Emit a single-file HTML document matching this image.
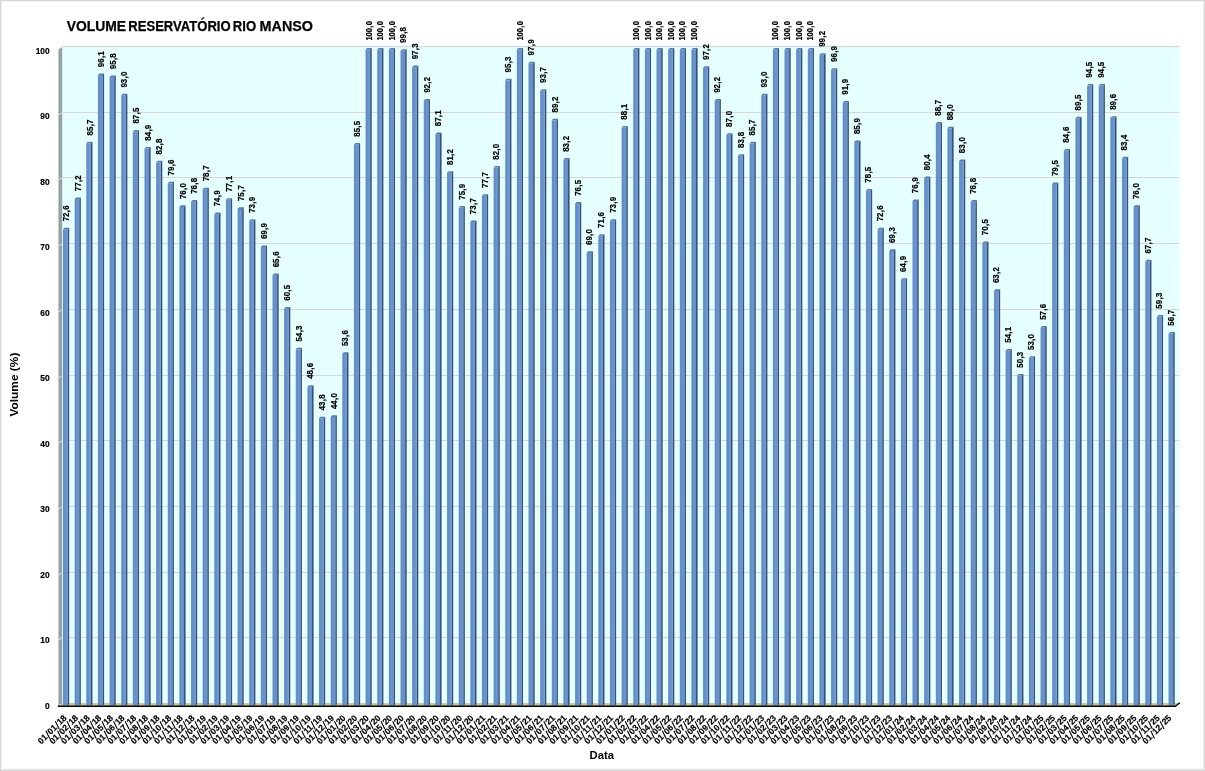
<!DOCTYPE html>
<html><head><meta charset="utf-8"><title>Volume Reservatório Rio Manso</title>
<style>html,body{margin:0;padding:0;background:#fff}body{width:1205px;height:771px;overflow:hidden}svg{will-change:transform}</style></head>
<body>
<svg width="1205" height="771" viewBox="0 0 1205 771" style="display:block;font-family:'Liberation Sans',sans-serif;font-weight:bold">
<defs>
<linearGradient id="bf" x1="0" y1="0" x2="1" y2="0"><stop offset="0" stop-color="#6d95cf"/><stop offset="0.2" stop-color="#628bc6"/><stop offset="0.7" stop-color="#6b97d0"/><stop offset="1" stop-color="#5f88c0"/></linearGradient>
<linearGradient id="wl" x1="0" y1="0" x2="1" y2="0"><stop offset="0" stop-color="#8c9c9c"/><stop offset="0.75" stop-color="#94a6a6"/><stop offset="1" stop-color="#c0d4d4"/></linearGradient>
<g id="p" font-size="8.6"><text x="-27.0" y="0" text-anchor="end">01</text><path d="M-26.3,1.7L-23.6,-6.4M-12.9,1.7L-10.2,-6.4" stroke="#000" stroke-width="1.1" fill="none"/></g>
</defs>
<rect width="1205" height="771" fill="#fff"/>
<rect x="0" y="0" width="1205" height="1" fill="#d5d5d5"/><rect x="0" y="1" width="1205" height="1" fill="#f5f5f5"/>
<rect x="0" y="0" width="1" height="771" fill="#d4d4d4"/><rect x="1" y="1" width="1" height="771" fill="#f3f3f3"/>
<rect x="1203" y="1" width="1" height="771" fill="#efefef"/><rect x="1204" y="0" width="1" height="771" fill="#d9d9d9"/>
<rect x="1" y="768" width="1203" height="1" fill="#f8f8f8"/><rect x="1" y="769" width="1203" height="1" fill="#e6e6e6"/><rect x="0" y="770" width="1205" height="1" fill="#dadada"/>
<rect x="62.5" y="46.0" width="1117.1" height="658.0" fill="#e6ffff"/>
<rect x="62.5" y="703" width="1117.1" height="1" fill="#d7d7d7"/>
<rect x="62.5" y="637" width="1117.1" height="1" fill="#d7d7d7"/>
<rect x="62.5" y="572" width="1117.1" height="1" fill="#d7d7d7"/>
<rect x="62.5" y="506" width="1117.1" height="1" fill="#d7d7d7"/>
<rect x="62.5" y="440" width="1117.1" height="1" fill="#d7d7d7"/>
<rect x="62.5" y="375" width="1117.1" height="1" fill="#d7d7d7"/>
<rect x="62.5" y="309" width="1117.1" height="1" fill="#d7d7d7"/>
<rect x="62.5" y="243" width="1117.1" height="1" fill="#d7d7d7"/>
<rect x="62.5" y="177" width="1117.1" height="1" fill="#d7d7d7"/>
<rect x="62.5" y="112" width="1117.1" height="1" fill="#d7d7d7"/>
<rect x="62.5" y="45.9" width="1117.1" height="1.3" fill="#d7d7d7"/>
<polygon points="58.5,49.5 62.5,46.3 62.5,703.5 58.5,706" fill="url(#wl)"/>
<line x1="62.5" y1="703.50" x2="57.3" y2="706.70" stroke="#e6e6e6" stroke-width="1"/>
<line x1="62.5" y1="637.50" x2="57.3" y2="640.70" stroke="#e6e6e6" stroke-width="1"/>
<line x1="62.5" y1="572.50" x2="57.3" y2="575.70" stroke="#e6e6e6" stroke-width="1"/>
<line x1="62.5" y1="506.50" x2="57.3" y2="509.70" stroke="#e6e6e6" stroke-width="1"/>
<line x1="62.5" y1="440.50" x2="57.3" y2="443.70" stroke="#e6e6e6" stroke-width="1"/>
<line x1="62.5" y1="375.50" x2="57.3" y2="378.70" stroke="#e6e6e6" stroke-width="1"/>
<line x1="62.5" y1="309.50" x2="57.3" y2="312.70" stroke="#e6e6e6" stroke-width="1"/>
<line x1="62.5" y1="243.50" x2="57.3" y2="246.70" stroke="#e6e6e6" stroke-width="1"/>
<line x1="62.5" y1="177.50" x2="57.3" y2="180.70" stroke="#e6e6e6" stroke-width="1"/>
<line x1="62.5" y1="112.50" x2="57.3" y2="115.70" stroke="#e6e6e6" stroke-width="1"/>
<line x1="62.5" y1="46.50" x2="57.3" y2="49.70" stroke="#e6e6e6" stroke-width="1"/>
<polygon points="58.5,706 62.5,703.2 1179.6,703.2 1175.5,706" fill="#c9c48c"/>
<polygon points="63.00,229.27 64.60,227.67 69.20,227.67 67.60,229.27" fill="#5579ad"/>
<polygon points="67.60,229.27 69.20,227.67 69.20,704.4 67.60,705.6" fill="#34517e"/>
<rect x="63.00" y="229.27" width="4.6" height="476.33" fill="url(#bf)"/>
<polygon points="74.64,199.09 76.24,197.49 80.84,197.49 79.24,199.09" fill="#5579ad"/>
<polygon points="79.24,199.09 80.84,197.49 80.84,704.4 79.24,705.6" fill="#34517e"/>
<rect x="74.64" y="199.09" width="4.6" height="506.51" fill="url(#bf)"/>
<polygon points="86.27,143.32 87.87,141.72 92.47,141.72 90.87,143.32" fill="#5579ad"/>
<polygon points="90.87,143.32 92.47,141.72 92.47,704.4 90.87,705.6" fill="#34517e"/>
<rect x="86.27" y="143.32" width="4.6" height="562.28" fill="url(#bf)"/>
<polygon points="97.91,75.09 99.51,73.49 104.11,73.49 102.51,75.09" fill="#5579ad"/>
<polygon points="102.51,75.09 104.11,73.49 104.11,704.4 102.51,705.6" fill="#34517e"/>
<rect x="97.91" y="75.09" width="4.6" height="630.51" fill="url(#bf)"/>
<polygon points="109.55,77.06 111.15,75.46 115.75,75.46 114.15,77.06" fill="#5579ad"/>
<polygon points="114.15,77.06 115.75,75.46 115.75,704.4 114.15,705.6" fill="#34517e"/>
<rect x="109.55" y="77.06" width="4.6" height="628.54" fill="url(#bf)"/>
<polygon points="121.19,95.43 122.78,93.83 127.38,93.83 125.78,95.43" fill="#5579ad"/>
<polygon points="125.78,95.43 127.38,93.83 127.38,704.4 125.78,705.6" fill="#34517e"/>
<rect x="121.19" y="95.43" width="4.6" height="610.17" fill="url(#bf)"/>
<polygon points="132.82,131.51 134.42,129.91 139.02,129.91 137.42,131.51" fill="#5579ad"/>
<polygon points="137.42,131.51 139.02,129.91 139.02,704.4 137.42,705.6" fill="#34517e"/>
<rect x="132.82" y="131.51" width="4.6" height="574.09" fill="url(#bf)"/>
<polygon points="144.46,148.57 146.06,146.97 150.66,146.97 149.06,148.57" fill="#5579ad"/>
<polygon points="149.06,148.57 150.66,146.97 150.66,704.4 149.06,705.6" fill="#34517e"/>
<rect x="144.46" y="148.57" width="4.6" height="557.03" fill="url(#bf)"/>
<polygon points="156.10,162.35 157.70,160.75 162.30,160.75 160.70,162.35" fill="#5579ad"/>
<polygon points="160.70,162.35 162.30,160.75 162.30,704.4 160.70,705.6" fill="#34517e"/>
<rect x="156.10" y="162.35" width="4.6" height="543.25" fill="url(#bf)"/>
<polygon points="167.73,183.34 169.33,181.74 173.93,181.74 172.33,183.34" fill="#5579ad"/>
<polygon points="172.33,183.34 173.93,181.74 173.93,704.4 172.33,705.6" fill="#34517e"/>
<rect x="167.73" y="183.34" width="4.6" height="522.26" fill="url(#bf)"/>
<polygon points="179.37,206.96 180.97,205.36 185.57,205.36 183.97,206.96" fill="#5579ad"/>
<polygon points="183.97,206.96 185.57,205.36 185.57,704.4 183.97,705.6" fill="#34517e"/>
<rect x="179.37" y="206.96" width="4.6" height="498.64" fill="url(#bf)"/>
<polygon points="191.01,201.72 192.61,200.12 197.21,200.12 195.61,201.72" fill="#5579ad"/>
<polygon points="195.61,201.72 197.21,200.12 197.21,704.4 195.61,705.6" fill="#34517e"/>
<rect x="191.01" y="201.72" width="4.6" height="503.88" fill="url(#bf)"/>
<polygon points="202.64,189.25 204.24,187.65 208.84,187.65 207.24,189.25" fill="#5579ad"/>
<polygon points="207.24,189.25 208.84,187.65 208.84,704.4 207.24,705.6" fill="#34517e"/>
<rect x="202.64" y="189.25" width="4.6" height="516.35" fill="url(#bf)"/>
<polygon points="214.28,214.18 215.88,212.58 220.48,212.58 218.88,214.18" fill="#5579ad"/>
<polygon points="218.88,214.18 220.48,212.58 220.48,704.4 218.88,705.6" fill="#34517e"/>
<rect x="214.28" y="214.18" width="4.6" height="491.42" fill="url(#bf)"/>
<polygon points="225.92,199.75 227.52,198.15 232.12,198.15 230.52,199.75" fill="#5579ad"/>
<polygon points="230.52,199.75 232.12,198.15 232.12,704.4 230.52,705.6" fill="#34517e"/>
<rect x="225.92" y="199.75" width="4.6" height="505.85" fill="url(#bf)"/>
<polygon points="237.56,208.93 239.16,207.33 243.75,207.33 242.16,208.93" fill="#5579ad"/>
<polygon points="242.16,208.93 243.75,207.33 243.75,704.4 242.16,705.6" fill="#34517e"/>
<rect x="237.56" y="208.93" width="4.6" height="496.67" fill="url(#bf)"/>
<polygon points="249.19,220.74 250.79,219.14 255.39,219.14 253.79,220.74" fill="#5579ad"/>
<polygon points="253.79,220.74 255.39,219.14 255.39,704.4 253.79,705.6" fill="#34517e"/>
<rect x="249.19" y="220.74" width="4.6" height="484.86" fill="url(#bf)"/>
<polygon points="260.83,246.99 262.43,245.39 267.03,245.39 265.43,246.99" fill="#5579ad"/>
<polygon points="265.43,246.99 267.03,245.39 267.03,704.4 265.43,705.6" fill="#34517e"/>
<rect x="260.83" y="246.99" width="4.6" height="458.61" fill="url(#bf)"/>
<polygon points="272.47,275.20 274.07,273.60 278.67,273.60 277.07,275.20" fill="#5579ad"/>
<polygon points="277.07,275.20 278.67,273.60 278.67,704.4 277.07,705.6" fill="#34517e"/>
<rect x="272.47" y="275.20" width="4.6" height="430.40" fill="url(#bf)"/>
<polygon points="284.10,308.66 285.70,307.06 290.30,307.06 288.70,308.66" fill="#5579ad"/>
<polygon points="288.70,308.66 290.30,307.06 290.30,704.4 288.70,705.6" fill="#34517e"/>
<rect x="284.10" y="308.66" width="4.6" height="396.94" fill="url(#bf)"/>
<polygon points="295.74,349.34 297.34,347.74 301.94,347.74 300.34,349.34" fill="#5579ad"/>
<polygon points="300.34,349.34 301.94,347.74 301.94,704.4 300.34,705.6" fill="#34517e"/>
<rect x="295.74" y="349.34" width="4.6" height="356.26" fill="url(#bf)"/>
<polygon points="307.38,386.74 308.98,385.14 313.58,385.14 311.98,386.74" fill="#5579ad"/>
<polygon points="311.98,386.74 313.58,385.14 313.58,704.4 311.98,705.6" fill="#34517e"/>
<rect x="307.38" y="386.74" width="4.6" height="318.86" fill="url(#bf)"/>
<polygon points="319.01,418.23 320.61,416.63 325.21,416.63 323.61,418.23" fill="#5579ad"/>
<polygon points="323.61,418.23 325.21,416.63 325.21,704.4 323.61,705.6" fill="#34517e"/>
<rect x="319.01" y="418.23" width="4.6" height="287.37" fill="url(#bf)"/>
<polygon points="330.65,416.92 332.25,415.32 336.85,415.32 335.25,416.92" fill="#5579ad"/>
<polygon points="335.25,416.92 336.85,415.32 336.85,704.4 335.25,705.6" fill="#34517e"/>
<rect x="330.65" y="416.92" width="4.6" height="288.68" fill="url(#bf)"/>
<polygon points="342.29,353.93 343.89,352.33 348.49,352.33 346.89,353.93" fill="#5579ad"/>
<polygon points="346.89,353.93 348.49,352.33 348.49,704.4 346.89,705.6" fill="#34517e"/>
<rect x="342.29" y="353.93" width="4.6" height="351.67" fill="url(#bf)"/>
<polygon points="353.93,144.63 355.53,143.03 360.13,143.03 358.53,144.63" fill="#5579ad"/>
<polygon points="358.53,144.63 360.13,143.03 360.13,704.4 358.53,705.6" fill="#34517e"/>
<rect x="353.93" y="144.63" width="4.6" height="560.97" fill="url(#bf)"/>
<polygon points="365.56,49.50 367.16,47.90 371.76,47.90 370.16,49.50" fill="#5579ad"/>
<polygon points="370.16,49.50 371.76,47.90 371.76,704.4 370.16,705.6" fill="#34517e"/>
<rect x="365.56" y="49.50" width="4.6" height="656.10" fill="url(#bf)"/>
<polygon points="377.20,49.50 378.80,47.90 383.40,47.90 381.80,49.50" fill="#5579ad"/>
<polygon points="381.80,49.50 383.40,47.90 383.40,704.4 381.80,705.6" fill="#34517e"/>
<rect x="377.20" y="49.50" width="4.6" height="656.10" fill="url(#bf)"/>
<polygon points="388.84,49.50 390.44,47.90 395.04,47.90 393.44,49.50" fill="#5579ad"/>
<polygon points="393.44,49.50 395.04,47.90 395.04,704.4 393.44,705.6" fill="#34517e"/>
<rect x="388.84" y="49.50" width="4.6" height="656.10" fill="url(#bf)"/>
<polygon points="400.47,50.81 402.07,49.21 406.67,49.21 405.07,50.81" fill="#5579ad"/>
<polygon points="405.07,50.81 406.67,49.21 406.67,704.4 405.07,705.6" fill="#34517e"/>
<rect x="400.47" y="50.81" width="4.6" height="654.79" fill="url(#bf)"/>
<polygon points="412.11,67.21 413.71,65.61 418.31,65.61 416.71,67.21" fill="#5579ad"/>
<polygon points="416.71,67.21 418.31,65.61 418.31,704.4 416.71,705.6" fill="#34517e"/>
<rect x="412.11" y="67.21" width="4.6" height="638.39" fill="url(#bf)"/>
<polygon points="423.75,100.68 425.35,99.08 429.95,99.08 428.35,100.68" fill="#5579ad"/>
<polygon points="428.35,100.68 429.95,99.08 429.95,704.4 428.35,705.6" fill="#34517e"/>
<rect x="423.75" y="100.68" width="4.6" height="604.92" fill="url(#bf)"/>
<polygon points="435.38,134.14 436.98,132.54 441.58,132.54 439.98,134.14" fill="#5579ad"/>
<polygon points="439.98,134.14 441.58,132.54 441.58,704.4 439.98,705.6" fill="#34517e"/>
<rect x="435.38" y="134.14" width="4.6" height="571.46" fill="url(#bf)"/>
<polygon points="447.02,172.85 448.62,171.25 453.22,171.25 451.62,172.85" fill="#5579ad"/>
<polygon points="451.62,172.85 453.22,171.25 453.22,704.4 451.62,705.6" fill="#34517e"/>
<rect x="447.02" y="172.85" width="4.6" height="532.75" fill="url(#bf)"/>
<polygon points="458.66,207.62 460.26,206.02 464.86,206.02 463.26,207.62" fill="#5579ad"/>
<polygon points="463.26,207.62 464.86,206.02 464.86,704.4 463.26,705.6" fill="#34517e"/>
<rect x="458.66" y="207.62" width="4.6" height="497.98" fill="url(#bf)"/>
<polygon points="470.30,222.05 471.90,220.45 476.50,220.45 474.90,222.05" fill="#5579ad"/>
<polygon points="474.90,222.05 476.50,220.45 476.50,704.4 474.90,705.6" fill="#34517e"/>
<rect x="470.30" y="222.05" width="4.6" height="483.55" fill="url(#bf)"/>
<polygon points="481.93,195.81 483.53,194.21 488.13,194.21 486.53,195.81" fill="#5579ad"/>
<polygon points="486.53,195.81 488.13,194.21 488.13,704.4 486.53,705.6" fill="#34517e"/>
<rect x="481.93" y="195.81" width="4.6" height="509.79" fill="url(#bf)"/>
<polygon points="493.57,167.60 495.17,166.00 499.77,166.00 498.17,167.60" fill="#5579ad"/>
<polygon points="498.17,167.60 499.77,166.00 499.77,704.4 498.17,705.6" fill="#34517e"/>
<rect x="493.57" y="167.60" width="4.6" height="538.00" fill="url(#bf)"/>
<polygon points="505.21,80.34 506.81,78.74 511.41,78.74 509.81,80.34" fill="#5579ad"/>
<polygon points="509.81,80.34 511.41,78.74 511.41,704.4 509.81,705.6" fill="#34517e"/>
<rect x="505.21" y="80.34" width="4.6" height="625.26" fill="url(#bf)"/>
<polygon points="516.84,49.50 518.44,47.90 523.04,47.90 521.44,49.50" fill="#5579ad"/>
<polygon points="521.44,49.50 523.04,47.90 523.04,704.4 521.44,705.6" fill="#34517e"/>
<rect x="516.84" y="49.50" width="4.6" height="656.10" fill="url(#bf)"/>
<polygon points="528.48,63.28 530.08,61.68 534.68,61.68 533.08,63.28" fill="#5579ad"/>
<polygon points="533.08,63.28 534.68,61.68 534.68,704.4 533.08,705.6" fill="#34517e"/>
<rect x="528.48" y="63.28" width="4.6" height="642.32" fill="url(#bf)"/>
<polygon points="540.12,90.83 541.72,89.23 546.32,89.23 544.72,90.83" fill="#5579ad"/>
<polygon points="544.72,90.83 546.32,89.23 546.32,704.4 544.72,705.6" fill="#34517e"/>
<rect x="540.12" y="90.83" width="4.6" height="614.77" fill="url(#bf)"/>
<polygon points="551.75,120.36 553.35,118.76 557.95,118.76 556.35,120.36" fill="#5579ad"/>
<polygon points="556.35,120.36 557.95,118.76 557.95,704.4 556.35,705.6" fill="#34517e"/>
<rect x="551.75" y="120.36" width="4.6" height="585.24" fill="url(#bf)"/>
<polygon points="563.39,159.72 564.99,158.12 569.59,158.12 567.99,159.72" fill="#5579ad"/>
<polygon points="567.99,159.72 569.59,158.12 569.59,704.4 567.99,705.6" fill="#34517e"/>
<rect x="563.39" y="159.72" width="4.6" height="545.88" fill="url(#bf)"/>
<polygon points="575.03,203.68 576.63,202.08 581.23,202.08 579.63,203.68" fill="#5579ad"/>
<polygon points="579.63,203.68 581.23,202.08 581.23,704.4 579.63,705.6" fill="#34517e"/>
<rect x="575.03" y="203.68" width="4.6" height="501.92" fill="url(#bf)"/>
<polygon points="586.66,252.89 588.26,251.29 592.87,251.29 591.26,252.89" fill="#5579ad"/>
<polygon points="591.26,252.89 592.87,251.29 592.87,704.4 591.26,705.6" fill="#34517e"/>
<rect x="586.66" y="252.89" width="4.6" height="452.71" fill="url(#bf)"/>
<polygon points="598.30,235.83 599.90,234.23 604.50,234.23 602.90,235.83" fill="#5579ad"/>
<polygon points="602.90,235.83 604.50,234.23 604.50,704.4 602.90,705.6" fill="#34517e"/>
<rect x="598.30" y="235.83" width="4.6" height="469.77" fill="url(#bf)"/>
<polygon points="609.94,220.74 611.54,219.14 616.14,219.14 614.54,220.74" fill="#5579ad"/>
<polygon points="614.54,220.74 616.14,219.14 616.14,704.4 614.54,705.6" fill="#34517e"/>
<rect x="609.94" y="220.74" width="4.6" height="484.86" fill="url(#bf)"/>
<polygon points="621.58,127.58 623.18,125.98 627.78,125.98 626.18,127.58" fill="#5579ad"/>
<polygon points="626.18,127.58 627.78,125.98 627.78,704.4 626.18,705.6" fill="#34517e"/>
<rect x="621.58" y="127.58" width="4.6" height="578.02" fill="url(#bf)"/>
<polygon points="633.21,49.50 634.81,47.90 639.41,47.90 637.81,49.50" fill="#5579ad"/>
<polygon points="637.81,49.50 639.41,47.90 639.41,704.4 637.81,705.6" fill="#34517e"/>
<rect x="633.21" y="49.50" width="4.6" height="656.10" fill="url(#bf)"/>
<polygon points="644.85,49.50 646.45,47.90 651.05,47.90 649.45,49.50" fill="#5579ad"/>
<polygon points="649.45,49.50 651.05,47.90 651.05,704.4 649.45,705.6" fill="#34517e"/>
<rect x="644.85" y="49.50" width="4.6" height="656.10" fill="url(#bf)"/>
<polygon points="656.49,49.50 658.09,47.90 662.69,47.90 661.09,49.50" fill="#5579ad"/>
<polygon points="661.09,49.50 662.69,47.90 662.69,704.4 661.09,705.6" fill="#34517e"/>
<rect x="656.49" y="49.50" width="4.6" height="656.10" fill="url(#bf)"/>
<polygon points="668.12,49.50 669.72,47.90 674.32,47.90 672.72,49.50" fill="#5579ad"/>
<polygon points="672.72,49.50 674.32,47.90 674.32,704.4 672.72,705.6" fill="#34517e"/>
<rect x="668.12" y="49.50" width="4.6" height="656.10" fill="url(#bf)"/>
<polygon points="679.76,49.50 681.36,47.90 685.96,47.90 684.36,49.50" fill="#5579ad"/>
<polygon points="684.36,49.50 685.96,47.90 685.96,704.4 684.36,705.6" fill="#34517e"/>
<rect x="679.76" y="49.50" width="4.6" height="656.10" fill="url(#bf)"/>
<polygon points="691.40,49.50 693.00,47.90 697.60,47.90 696.00,49.50" fill="#5579ad"/>
<polygon points="696.00,49.50 697.60,47.90 697.60,704.4 696.00,705.6" fill="#34517e"/>
<rect x="691.40" y="49.50" width="4.6" height="656.10" fill="url(#bf)"/>
<polygon points="703.04,67.87 704.64,66.27 709.24,66.27 707.64,67.87" fill="#5579ad"/>
<polygon points="707.64,67.87 709.24,66.27 709.24,704.4 707.64,705.6" fill="#34517e"/>
<rect x="703.04" y="67.87" width="4.6" height="637.73" fill="url(#bf)"/>
<polygon points="714.67,100.68 716.27,99.08 720.87,99.08 719.27,100.68" fill="#5579ad"/>
<polygon points="719.27,100.68 720.87,99.08 720.87,704.4 719.27,705.6" fill="#34517e"/>
<rect x="714.67" y="100.68" width="4.6" height="604.92" fill="url(#bf)"/>
<polygon points="726.31,134.79 727.91,133.19 732.51,133.19 730.91,134.79" fill="#5579ad"/>
<polygon points="730.91,134.79 732.51,133.19 732.51,704.4 730.91,705.6" fill="#34517e"/>
<rect x="726.31" y="134.79" width="4.6" height="570.81" fill="url(#bf)"/>
<polygon points="737.95,155.79 739.55,154.19 744.15,154.19 742.55,155.79" fill="#5579ad"/>
<polygon points="742.55,155.79 744.15,154.19 744.15,704.4 742.55,705.6" fill="#34517e"/>
<rect x="737.95" y="155.79" width="4.6" height="549.81" fill="url(#bf)"/>
<polygon points="749.58,143.32 751.18,141.72 755.78,141.72 754.18,143.32" fill="#5579ad"/>
<polygon points="754.18,143.32 755.78,141.72 755.78,704.4 754.18,705.6" fill="#34517e"/>
<rect x="749.58" y="143.32" width="4.6" height="562.28" fill="url(#bf)"/>
<polygon points="761.22,95.43 762.82,93.83 767.42,93.83 765.82,95.43" fill="#5579ad"/>
<polygon points="765.82,95.43 767.42,93.83 767.42,704.4 765.82,705.6" fill="#34517e"/>
<rect x="761.22" y="95.43" width="4.6" height="610.17" fill="url(#bf)"/>
<polygon points="772.86,49.50 774.46,47.90 779.06,47.90 777.46,49.50" fill="#5579ad"/>
<polygon points="777.46,49.50 779.06,47.90 779.06,704.4 777.46,705.6" fill="#34517e"/>
<rect x="772.86" y="49.50" width="4.6" height="656.10" fill="url(#bf)"/>
<polygon points="784.49,49.50 786.09,47.90 790.69,47.90 789.09,49.50" fill="#5579ad"/>
<polygon points="789.09,49.50 790.69,47.90 790.69,704.4 789.09,705.6" fill="#34517e"/>
<rect x="784.49" y="49.50" width="4.6" height="656.10" fill="url(#bf)"/>
<polygon points="796.13,49.50 797.73,47.90 802.33,47.90 800.73,49.50" fill="#5579ad"/>
<polygon points="800.73,49.50 802.33,47.90 802.33,704.4 800.73,705.6" fill="#34517e"/>
<rect x="796.13" y="49.50" width="4.6" height="656.10" fill="url(#bf)"/>
<polygon points="807.77,49.50 809.37,47.90 813.97,47.90 812.37,49.50" fill="#5579ad"/>
<polygon points="812.37,49.50 813.97,47.90 813.97,704.4 812.37,705.6" fill="#34517e"/>
<rect x="807.77" y="49.50" width="4.6" height="656.10" fill="url(#bf)"/>
<polygon points="819.40,54.75 821.00,53.15 825.61,53.15 824.00,54.75" fill="#5579ad"/>
<polygon points="824.00,54.75 825.61,53.15 825.61,704.4 824.00,705.6" fill="#34517e"/>
<rect x="819.40" y="54.75" width="4.6" height="650.85" fill="url(#bf)"/>
<polygon points="831.04,69.84 832.64,68.24 837.24,68.24 835.64,69.84" fill="#5579ad"/>
<polygon points="835.64,69.84 837.24,68.24 837.24,704.4 835.64,705.6" fill="#34517e"/>
<rect x="831.04" y="69.84" width="4.6" height="635.76" fill="url(#bf)"/>
<polygon points="842.68,102.64 844.28,101.04 848.88,101.04 847.28,102.64" fill="#5579ad"/>
<polygon points="847.28,102.64 848.88,101.04 848.88,704.4 847.28,705.6" fill="#34517e"/>
<rect x="842.68" y="102.64" width="4.6" height="602.96" fill="url(#bf)"/>
<polygon points="854.32,142.01 855.92,140.41 860.52,140.41 858.92,142.01" fill="#5579ad"/>
<polygon points="858.92,142.01 860.52,140.41 860.52,704.4 858.92,705.6" fill="#34517e"/>
<rect x="854.32" y="142.01" width="4.6" height="563.59" fill="url(#bf)"/>
<polygon points="865.95,190.56 867.55,188.96 872.15,188.96 870.55,190.56" fill="#5579ad"/>
<polygon points="870.55,190.56 872.15,188.96 872.15,704.4 870.55,705.6" fill="#34517e"/>
<rect x="865.95" y="190.56" width="4.6" height="515.04" fill="url(#bf)"/>
<polygon points="877.59,229.27 879.19,227.67 883.79,227.67 882.19,229.27" fill="#5579ad"/>
<polygon points="882.19,229.27 883.79,227.67 883.79,704.4 882.19,705.6" fill="#34517e"/>
<rect x="877.59" y="229.27" width="4.6" height="476.33" fill="url(#bf)"/>
<polygon points="889.23,250.92 890.83,249.32 895.43,249.32 893.83,250.92" fill="#5579ad"/>
<polygon points="893.83,250.92 895.43,249.32 895.43,704.4 893.83,705.6" fill="#34517e"/>
<rect x="889.23" y="250.92" width="4.6" height="454.68" fill="url(#bf)"/>
<polygon points="900.86,279.79 902.46,278.19 907.06,278.19 905.46,279.79" fill="#5579ad"/>
<polygon points="905.46,279.79 907.06,278.19 907.06,704.4 905.46,705.6" fill="#34517e"/>
<rect x="900.86" y="279.79" width="4.6" height="425.81" fill="url(#bf)"/>
<polygon points="912.50,201.06 914.10,199.46 918.70,199.46 917.10,201.06" fill="#5579ad"/>
<polygon points="917.10,201.06 918.70,199.46 918.70,704.4 917.10,705.6" fill="#34517e"/>
<rect x="912.50" y="201.06" width="4.6" height="504.54" fill="url(#bf)"/>
<polygon points="924.14,178.10 925.74,176.50 930.34,176.50 928.74,178.10" fill="#5579ad"/>
<polygon points="928.74,178.10 930.34,176.50 930.34,704.4 928.74,705.6" fill="#34517e"/>
<rect x="924.14" y="178.10" width="4.6" height="527.50" fill="url(#bf)"/>
<polygon points="935.78,123.64 937.38,122.04 941.98,122.04 940.38,123.64" fill="#5579ad"/>
<polygon points="940.38,123.64 941.98,122.04 941.98,704.4 940.38,705.6" fill="#34517e"/>
<rect x="935.78" y="123.64" width="4.6" height="581.96" fill="url(#bf)"/>
<polygon points="947.41,128.23 949.01,126.63 953.61,126.63 952.01,128.23" fill="#5579ad"/>
<polygon points="952.01,128.23 953.61,126.63 953.61,704.4 952.01,705.6" fill="#34517e"/>
<rect x="947.41" y="128.23" width="4.6" height="577.37" fill="url(#bf)"/>
<polygon points="959.05,161.04 960.65,159.44 965.25,159.44 963.65,161.04" fill="#5579ad"/>
<polygon points="963.65,161.04 965.25,159.44 965.25,704.4 963.65,705.6" fill="#34517e"/>
<rect x="959.05" y="161.04" width="4.6" height="544.56" fill="url(#bf)"/>
<polygon points="970.69,201.72 972.29,200.12 976.89,200.12 975.29,201.72" fill="#5579ad"/>
<polygon points="975.29,201.72 976.89,200.12 976.89,704.4 975.29,705.6" fill="#34517e"/>
<rect x="970.69" y="201.72" width="4.6" height="503.88" fill="url(#bf)"/>
<polygon points="982.32,243.05 983.92,241.45 988.52,241.45 986.92,243.05" fill="#5579ad"/>
<polygon points="986.92,243.05 988.52,241.45 988.52,704.4 986.92,705.6" fill="#34517e"/>
<rect x="982.32" y="243.05" width="4.6" height="462.55" fill="url(#bf)"/>
<polygon points="993.96,290.94 995.56,289.34 1000.16,289.34 998.56,290.94" fill="#5579ad"/>
<polygon points="998.56,290.94 1000.16,289.34 1000.16,704.4 998.56,705.6" fill="#34517e"/>
<rect x="993.96" y="290.94" width="4.6" height="414.66" fill="url(#bf)"/>
<polygon points="1005.60,350.65 1007.20,349.05 1011.80,349.05 1010.20,350.65" fill="#5579ad"/>
<polygon points="1010.20,350.65 1011.80,349.05 1011.80,704.4 1010.20,705.6" fill="#34517e"/>
<rect x="1005.60" y="350.65" width="4.6" height="354.95" fill="url(#bf)"/>
<polygon points="1017.23,375.58 1018.83,373.98 1023.43,373.98 1021.83,375.58" fill="#5579ad"/>
<polygon points="1021.83,375.58 1023.43,373.98 1023.43,704.4 1021.83,705.6" fill="#34517e"/>
<rect x="1017.23" y="375.58" width="4.6" height="330.02" fill="url(#bf)"/>
<polygon points="1028.87,357.87 1030.47,356.27 1035.07,356.27 1033.47,357.87" fill="#5579ad"/>
<polygon points="1033.47,357.87 1035.07,356.27 1035.07,704.4 1033.47,705.6" fill="#34517e"/>
<rect x="1028.87" y="357.87" width="4.6" height="347.73" fill="url(#bf)"/>
<polygon points="1040.51,327.69 1042.11,326.09 1046.71,326.09 1045.11,327.69" fill="#5579ad"/>
<polygon points="1045.11,327.69 1046.71,326.09 1046.71,704.4 1045.11,705.6" fill="#34517e"/>
<rect x="1040.51" y="327.69" width="4.6" height="377.91" fill="url(#bf)"/>
<polygon points="1052.14,184.00 1053.74,182.40 1058.34,182.40 1056.74,184.00" fill="#5579ad"/>
<polygon points="1056.74,184.00 1058.34,182.40 1058.34,704.4 1056.74,705.6" fill="#34517e"/>
<rect x="1052.14" y="184.00" width="4.6" height="521.60" fill="url(#bf)"/>
<polygon points="1063.78,150.54 1065.38,148.94 1069.98,148.94 1068.38,150.54" fill="#5579ad"/>
<polygon points="1068.38,150.54 1069.98,148.94 1069.98,704.4 1068.38,705.6" fill="#34517e"/>
<rect x="1063.78" y="150.54" width="4.6" height="555.06" fill="url(#bf)"/>
<polygon points="1075.42,118.39 1077.02,116.79 1081.62,116.79 1080.02,118.39" fill="#5579ad"/>
<polygon points="1080.02,118.39 1081.62,116.79 1081.62,704.4 1080.02,705.6" fill="#34517e"/>
<rect x="1075.42" y="118.39" width="4.6" height="587.21" fill="url(#bf)"/>
<polygon points="1087.06,85.59 1088.66,83.99 1093.26,83.99 1091.66,85.59" fill="#5579ad"/>
<polygon points="1091.66,85.59 1093.26,83.99 1093.26,704.4 1091.66,705.6" fill="#34517e"/>
<rect x="1087.06" y="85.59" width="4.6" height="620.01" fill="url(#bf)"/>
<polygon points="1098.69,85.59 1100.29,83.99 1104.89,83.99 1103.29,85.59" fill="#5579ad"/>
<polygon points="1103.29,85.59 1104.89,83.99 1104.89,704.4 1103.29,705.6" fill="#34517e"/>
<rect x="1098.69" y="85.59" width="4.6" height="620.01" fill="url(#bf)"/>
<polygon points="1110.33,117.73 1111.93,116.13 1116.53,116.13 1114.93,117.73" fill="#5579ad"/>
<polygon points="1114.93,117.73 1116.53,116.13 1116.53,704.4 1114.93,705.6" fill="#34517e"/>
<rect x="1110.33" y="117.73" width="4.6" height="587.87" fill="url(#bf)"/>
<polygon points="1121.97,158.41 1123.57,156.81 1128.17,156.81 1126.57,158.41" fill="#5579ad"/>
<polygon points="1126.57,158.41 1128.17,156.81 1128.17,704.4 1126.57,705.6" fill="#34517e"/>
<rect x="1121.97" y="158.41" width="4.6" height="547.19" fill="url(#bf)"/>
<polygon points="1133.60,206.96 1135.20,205.36 1139.80,205.36 1138.20,206.96" fill="#5579ad"/>
<polygon points="1138.20,206.96 1139.80,205.36 1139.80,704.4 1138.20,705.6" fill="#34517e"/>
<rect x="1133.60" y="206.96" width="4.6" height="498.64" fill="url(#bf)"/>
<polygon points="1145.24,261.42 1146.84,259.82 1151.44,259.82 1149.84,261.42" fill="#5579ad"/>
<polygon points="1149.84,261.42 1151.44,259.82 1151.44,704.4 1149.84,705.6" fill="#34517e"/>
<rect x="1145.24" y="261.42" width="4.6" height="444.18" fill="url(#bf)"/>
<polygon points="1156.88,316.53 1158.48,314.93 1163.08,314.93 1161.48,316.53" fill="#5579ad"/>
<polygon points="1161.48,316.53 1163.08,314.93 1163.08,704.4 1161.48,705.6" fill="#34517e"/>
<rect x="1156.88" y="316.53" width="4.6" height="389.07" fill="url(#bf)"/>
<polygon points="1168.52,333.59 1170.12,331.99 1174.71,331.99 1173.12,333.59" fill="#5579ad"/>
<polygon points="1173.12,333.59 1174.71,331.99 1174.71,704.4 1173.12,705.6" fill="#34517e"/>
<rect x="1168.52" y="333.59" width="4.6" height="372.01" fill="url(#bf)"/>
<polyline points="57.9,706.25 1175.3,706.25 1179.8999999999999,702.7" fill="none" stroke="#000" stroke-width="1.3" stroke-linejoin="miter"/>
<g fill="#000" stroke="#000" stroke-width="0.18">
<text transform="translate(69.30,221.37) rotate(-90) scale(0.92,1)" font-size="8.6">72<tspan dx=".3">,</tspan><tspan dx=".3">6</tspan></text>
<text transform="translate(80.93,191.19) rotate(-90) scale(0.92,1)" font-size="8.6">77<tspan dx=".3">,</tspan><tspan dx=".3">2</tspan></text>
<text transform="translate(92.55,135.42) rotate(-90) scale(0.92,1)" font-size="8.6">85<tspan dx=".3">,</tspan><tspan dx=".3">7</tspan></text>
<text transform="translate(104.18,67.19) rotate(-90) scale(0.92,1)" font-size="8.6">96<tspan dx=".3">,</tspan><tspan dx=".3">1</tspan></text>
<text transform="translate(115.80,69.16) rotate(-90) scale(0.92,1)" font-size="8.6">95<tspan dx=".3">,</tspan><tspan dx=".3">8</tspan></text>
<text transform="translate(127.43,87.53) rotate(-90) scale(0.92,1)" font-size="8.6">93<tspan dx=".3">,</tspan><tspan dx=".3">0</tspan></text>
<text transform="translate(139.06,123.61) rotate(-90) scale(0.92,1)" font-size="8.6">87<tspan dx=".3">,</tspan><tspan dx=".3">5</tspan></text>
<text transform="translate(150.68,140.67) rotate(-90) scale(0.92,1)" font-size="8.6">84<tspan dx=".3">,</tspan><tspan dx=".3">9</tspan></text>
<text transform="translate(162.31,154.45) rotate(-90) scale(0.92,1)" font-size="8.6">82<tspan dx=".3">,</tspan><tspan dx=".3">8</tspan></text>
<text transform="translate(173.93,175.44) rotate(-90) scale(0.92,1)" font-size="8.6">79<tspan dx=".3">,</tspan><tspan dx=".3">6</tspan></text>
<text transform="translate(185.56,199.06) rotate(-90) scale(0.92,1)" font-size="8.6">76<tspan dx=".3">,</tspan><tspan dx=".3">0</tspan></text>
<text transform="translate(197.19,193.82) rotate(-90) scale(0.92,1)" font-size="8.6">76<tspan dx=".3">,</tspan><tspan dx=".3">8</tspan></text>
<text transform="translate(208.81,181.35) rotate(-90) scale(0.92,1)" font-size="8.6">78<tspan dx=".3">,</tspan><tspan dx=".3">7</tspan></text>
<text transform="translate(220.44,206.28) rotate(-90) scale(0.92,1)" font-size="8.6">74<tspan dx=".3">,</tspan><tspan dx=".3">9</tspan></text>
<text transform="translate(232.06,191.85) rotate(-90) scale(0.92,1)" font-size="8.6">77<tspan dx=".3">,</tspan><tspan dx=".3">1</tspan></text>
<text transform="translate(243.69,201.03) rotate(-90) scale(0.92,1)" font-size="8.6">75<tspan dx=".3">,</tspan><tspan dx=".3">7</tspan></text>
<text transform="translate(255.32,212.84) rotate(-90) scale(0.92,1)" font-size="8.6">73<tspan dx=".3">,</tspan><tspan dx=".3">9</tspan></text>
<text transform="translate(266.94,239.09) rotate(-90) scale(0.92,1)" font-size="8.6">69<tspan dx=".3">,</tspan><tspan dx=".3">9</tspan></text>
<text transform="translate(278.57,267.30) rotate(-90) scale(0.92,1)" font-size="8.6">65<tspan dx=".3">,</tspan><tspan dx=".3">6</tspan></text>
<text transform="translate(290.19,300.76) rotate(-90) scale(0.92,1)" font-size="8.6">60<tspan dx=".3">,</tspan><tspan dx=".3">5</tspan></text>
<text transform="translate(301.82,341.44) rotate(-90) scale(0.92,1)" font-size="8.6">54<tspan dx=".3">,</tspan><tspan dx=".3">3</tspan></text>
<text transform="translate(313.45,378.84) rotate(-90) scale(0.92,1)" font-size="8.6">48<tspan dx=".3">,</tspan><tspan dx=".3">6</tspan></text>
<text transform="translate(325.07,410.33) rotate(-90) scale(0.92,1)" font-size="8.6">43<tspan dx=".3">,</tspan><tspan dx=".3">8</tspan></text>
<text transform="translate(336.70,409.02) rotate(-90) scale(0.92,1)" font-size="8.6">44<tspan dx=".3">,</tspan><tspan dx=".3">0</tspan></text>
<text transform="translate(348.32,346.03) rotate(-90) scale(0.92,1)" font-size="8.6">53<tspan dx=".3">,</tspan><tspan dx=".3">6</tspan></text>
<text transform="translate(359.95,136.73) rotate(-90) scale(0.92,1)" font-size="8.6">85<tspan dx=".3">,</tspan><tspan dx=".3">5</tspan></text>
<text transform="translate(371.58,40.60) rotate(-90) scale(0.88,1)" font-size="8.6">100<tspan dx=".3">,</tspan><tspan dx=".3">0</tspan></text>
<text transform="translate(383.20,40.60) rotate(-90) scale(0.88,1)" font-size="8.6">100<tspan dx=".3">,</tspan><tspan dx=".3">0</tspan></text>
<text transform="translate(394.83,40.60) rotate(-90) scale(0.88,1)" font-size="8.6">100<tspan dx=".3">,</tspan><tspan dx=".3">0</tspan></text>
<text transform="translate(406.45,42.91) rotate(-90) scale(0.92,1)" font-size="8.6">99<tspan dx=".3">,</tspan><tspan dx=".3">8</tspan></text>
<text transform="translate(418.08,59.31) rotate(-90) scale(0.92,1)" font-size="8.6">97<tspan dx=".3">,</tspan><tspan dx=".3">3</tspan></text>
<text transform="translate(429.71,92.78) rotate(-90) scale(0.92,1)" font-size="8.6">92<tspan dx=".3">,</tspan><tspan dx=".3">2</tspan></text>
<text transform="translate(441.33,126.24) rotate(-90) scale(0.92,1)" font-size="8.6">87<tspan dx=".3">,</tspan><tspan dx=".3">1</tspan></text>
<text transform="translate(452.96,164.95) rotate(-90) scale(0.92,1)" font-size="8.6">81<tspan dx=".3">,</tspan><tspan dx=".3">2</tspan></text>
<text transform="translate(464.58,199.72) rotate(-90) scale(0.92,1)" font-size="8.6">75<tspan dx=".3">,</tspan><tspan dx=".3">9</tspan></text>
<text transform="translate(476.21,214.15) rotate(-90) scale(0.92,1)" font-size="8.6">73<tspan dx=".3">,</tspan><tspan dx=".3">7</tspan></text>
<text transform="translate(487.84,187.91) rotate(-90) scale(0.92,1)" font-size="8.6">77<tspan dx=".3">,</tspan><tspan dx=".3">7</tspan></text>
<text transform="translate(499.46,159.70) rotate(-90) scale(0.92,1)" font-size="8.6">82<tspan dx=".3">,</tspan><tspan dx=".3">0</tspan></text>
<text transform="translate(511.09,72.44) rotate(-90) scale(0.92,1)" font-size="8.6">95<tspan dx=".3">,</tspan><tspan dx=".3">3</tspan></text>
<text transform="translate(522.71,40.60) rotate(-90) scale(0.88,1)" font-size="8.6">100<tspan dx=".3">,</tspan><tspan dx=".3">0</tspan></text>
<text transform="translate(534.34,55.38) rotate(-90) scale(0.92,1)" font-size="8.6">97<tspan dx=".3">,</tspan><tspan dx=".3">9</tspan></text>
<text transform="translate(545.97,82.93) rotate(-90) scale(0.92,1)" font-size="8.6">93<tspan dx=".3">,</tspan><tspan dx=".3">7</tspan></text>
<text transform="translate(557.59,112.46) rotate(-90) scale(0.92,1)" font-size="8.6">89<tspan dx=".3">,</tspan><tspan dx=".3">2</tspan></text>
<text transform="translate(569.22,151.82) rotate(-90) scale(0.92,1)" font-size="8.6">83<tspan dx=".3">,</tspan><tspan dx=".3">2</tspan></text>
<text transform="translate(580.84,195.78) rotate(-90) scale(0.92,1)" font-size="8.6">76<tspan dx=".3">,</tspan><tspan dx=".3">5</tspan></text>
<text transform="translate(592.47,244.99) rotate(-90) scale(0.92,1)" font-size="8.6">69<tspan dx=".3">,</tspan><tspan dx=".3">0</tspan></text>
<text transform="translate(604.10,227.93) rotate(-90) scale(0.92,1)" font-size="8.6">71<tspan dx=".3">,</tspan><tspan dx=".3">6</tspan></text>
<text transform="translate(615.72,212.84) rotate(-90) scale(0.92,1)" font-size="8.6">73<tspan dx=".3">,</tspan><tspan dx=".3">9</tspan></text>
<text transform="translate(627.35,119.68) rotate(-90) scale(0.92,1)" font-size="8.6">88<tspan dx=".3">,</tspan><tspan dx=".3">1</tspan></text>
<text transform="translate(638.97,40.60) rotate(-90) scale(0.88,1)" font-size="8.6">100<tspan dx=".3">,</tspan><tspan dx=".3">0</tspan></text>
<text transform="translate(650.60,40.60) rotate(-90) scale(0.88,1)" font-size="8.6">100<tspan dx=".3">,</tspan><tspan dx=".3">0</tspan></text>
<text transform="translate(662.23,40.60) rotate(-90) scale(0.88,1)" font-size="8.6">100<tspan dx=".3">,</tspan><tspan dx=".3">0</tspan></text>
<text transform="translate(673.85,40.60) rotate(-90) scale(0.88,1)" font-size="8.6">100<tspan dx=".3">,</tspan><tspan dx=".3">0</tspan></text>
<text transform="translate(685.48,40.60) rotate(-90) scale(0.88,1)" font-size="8.6">100<tspan dx=".3">,</tspan><tspan dx=".3">0</tspan></text>
<text transform="translate(697.10,40.60) rotate(-90) scale(0.88,1)" font-size="8.6">100<tspan dx=".3">,</tspan><tspan dx=".3">0</tspan></text>
<text transform="translate(708.73,59.97) rotate(-90) scale(0.92,1)" font-size="8.6">97<tspan dx=".3">,</tspan><tspan dx=".3">2</tspan></text>
<text transform="translate(720.36,92.78) rotate(-90) scale(0.92,1)" font-size="8.6">92<tspan dx=".3">,</tspan><tspan dx=".3">2</tspan></text>
<text transform="translate(731.98,126.89) rotate(-90) scale(0.92,1)" font-size="8.6">87<tspan dx=".3">,</tspan><tspan dx=".3">0</tspan></text>
<text transform="translate(743.61,147.89) rotate(-90) scale(0.92,1)" font-size="8.6">83<tspan dx=".3">,</tspan><tspan dx=".3">8</tspan></text>
<text transform="translate(755.23,135.42) rotate(-90) scale(0.92,1)" font-size="8.6">85<tspan dx=".3">,</tspan><tspan dx=".3">7</tspan></text>
<text transform="translate(766.86,87.53) rotate(-90) scale(0.92,1)" font-size="8.6">93<tspan dx=".3">,</tspan><tspan dx=".3">0</tspan></text>
<text transform="translate(778.49,40.60) rotate(-90) scale(0.88,1)" font-size="8.6">100<tspan dx=".3">,</tspan><tspan dx=".3">0</tspan></text>
<text transform="translate(790.11,40.60) rotate(-90) scale(0.88,1)" font-size="8.6">100<tspan dx=".3">,</tspan><tspan dx=".3">0</tspan></text>
<text transform="translate(801.74,40.60) rotate(-90) scale(0.88,1)" font-size="8.6">100<tspan dx=".3">,</tspan><tspan dx=".3">0</tspan></text>
<text transform="translate(813.36,40.60) rotate(-90) scale(0.88,1)" font-size="8.6">100<tspan dx=".3">,</tspan><tspan dx=".3">0</tspan></text>
<text transform="translate(824.99,46.85) rotate(-90) scale(0.92,1)" font-size="8.6">99<tspan dx=".3">,</tspan><tspan dx=".3">2</tspan></text>
<text transform="translate(836.62,61.94) rotate(-90) scale(0.92,1)" font-size="8.6">96<tspan dx=".3">,</tspan><tspan dx=".3">9</tspan></text>
<text transform="translate(848.24,94.74) rotate(-90) scale(0.92,1)" font-size="8.6">91<tspan dx=".3">,</tspan><tspan dx=".3">9</tspan></text>
<text transform="translate(859.87,134.11) rotate(-90) scale(0.92,1)" font-size="8.6">85<tspan dx=".3">,</tspan><tspan dx=".3">9</tspan></text>
<text transform="translate(871.49,182.66) rotate(-90) scale(0.92,1)" font-size="8.6">78<tspan dx=".3">,</tspan><tspan dx=".3">5</tspan></text>
<text transform="translate(883.12,221.37) rotate(-90) scale(0.92,1)" font-size="8.6">72<tspan dx=".3">,</tspan><tspan dx=".3">6</tspan></text>
<text transform="translate(894.75,243.02) rotate(-90) scale(0.92,1)" font-size="8.6">69<tspan dx=".3">,</tspan><tspan dx=".3">3</tspan></text>
<text transform="translate(906.37,271.89) rotate(-90) scale(0.92,1)" font-size="8.6">64<tspan dx=".3">,</tspan><tspan dx=".3">9</tspan></text>
<text transform="translate(918.00,193.16) rotate(-90) scale(0.92,1)" font-size="8.6">76<tspan dx=".3">,</tspan><tspan dx=".3">9</tspan></text>
<text transform="translate(929.62,170.20) rotate(-90) scale(0.92,1)" font-size="8.6">80<tspan dx=".3">,</tspan><tspan dx=".3">4</tspan></text>
<text transform="translate(941.25,115.74) rotate(-90) scale(0.92,1)" font-size="8.6">88<tspan dx=".3">,</tspan><tspan dx=".3">7</tspan></text>
<text transform="translate(952.88,120.33) rotate(-90) scale(0.92,1)" font-size="8.6">88<tspan dx=".3">,</tspan><tspan dx=".3">0</tspan></text>
<text transform="translate(964.50,153.14) rotate(-90) scale(0.92,1)" font-size="8.6">83<tspan dx=".3">,</tspan><tspan dx=".3">0</tspan></text>
<text transform="translate(976.13,193.82) rotate(-90) scale(0.92,1)" font-size="8.6">76<tspan dx=".3">,</tspan><tspan dx=".3">8</tspan></text>
<text transform="translate(987.75,235.15) rotate(-90) scale(0.92,1)" font-size="8.6">70<tspan dx=".3">,</tspan><tspan dx=".3">5</tspan></text>
<text transform="translate(999.38,283.04) rotate(-90) scale(0.92,1)" font-size="8.6">63<tspan dx=".3">,</tspan><tspan dx=".3">2</tspan></text>
<text transform="translate(1011.01,342.75) rotate(-90) scale(0.92,1)" font-size="8.6">54<tspan dx=".3">,</tspan><tspan dx=".3">1</tspan></text>
<text transform="translate(1022.63,367.68) rotate(-90) scale(0.92,1)" font-size="8.6">50<tspan dx=".3">,</tspan><tspan dx=".3">3</tspan></text>
<text transform="translate(1034.26,349.97) rotate(-90) scale(0.92,1)" font-size="8.6">53<tspan dx=".3">,</tspan><tspan dx=".3">0</tspan></text>
<text transform="translate(1045.88,319.79) rotate(-90) scale(0.92,1)" font-size="8.6">57<tspan dx=".3">,</tspan><tspan dx=".3">6</tspan></text>
<text transform="translate(1057.51,176.10) rotate(-90) scale(0.92,1)" font-size="8.6">79<tspan dx=".3">,</tspan><tspan dx=".3">5</tspan></text>
<text transform="translate(1069.14,142.64) rotate(-90) scale(0.92,1)" font-size="8.6">84<tspan dx=".3">,</tspan><tspan dx=".3">6</tspan></text>
<text transform="translate(1080.76,110.49) rotate(-90) scale(0.92,1)" font-size="8.6">89<tspan dx=".3">,</tspan><tspan dx=".3">5</tspan></text>
<text transform="translate(1092.39,77.69) rotate(-90) scale(0.92,1)" font-size="8.6">94<tspan dx=".3">,</tspan><tspan dx=".3">5</tspan></text>
<text transform="translate(1104.01,77.69) rotate(-90) scale(0.92,1)" font-size="8.6">94<tspan dx=".3">,</tspan><tspan dx=".3">5</tspan></text>
<text transform="translate(1115.64,109.83) rotate(-90) scale(0.92,1)" font-size="8.6">89<tspan dx=".3">,</tspan><tspan dx=".3">6</tspan></text>
<text transform="translate(1127.27,150.51) rotate(-90) scale(0.92,1)" font-size="8.6">83<tspan dx=".3">,</tspan><tspan dx=".3">4</tspan></text>
<text transform="translate(1138.89,199.06) rotate(-90) scale(0.92,1)" font-size="8.6">76<tspan dx=".3">,</tspan><tspan dx=".3">0</tspan></text>
<text transform="translate(1150.52,253.52) rotate(-90) scale(0.92,1)" font-size="8.6">67<tspan dx=".3">,</tspan><tspan dx=".3">7</tspan></text>
<text transform="translate(1162.14,308.63) rotate(-90) scale(0.92,1)" font-size="8.6">59<tspan dx=".3">,</tspan><tspan dx=".3">3</tspan></text>
<text transform="translate(1173.77,325.69) rotate(-90) scale(0.92,1)" font-size="8.6">56<tspan dx=".3">,</tspan><tspan dx=".3">7</tspan></text>
<text x="49.7" y="708.90" font-size="8.4" text-anchor="end">0</text>
<text x="49.7" y="643.40" font-size="8.4" text-anchor="end">10</text>
<text x="49.7" y="577.90" font-size="8.4" text-anchor="end">20</text>
<text x="49.7" y="512.40" font-size="8.4" text-anchor="end">30</text>
<text x="49.7" y="446.90" font-size="8.4" text-anchor="end">40</text>
<text x="49.7" y="381.40" font-size="8.4" text-anchor="end">50</text>
<text x="49.7" y="315.90" font-size="8.4" text-anchor="end">60</text>
<text x="49.7" y="250.40" font-size="8.4" text-anchor="end">70</text>
<text x="49.7" y="184.90" font-size="8.4" text-anchor="end">80</text>
<text x="49.7" y="119.40" font-size="8.4" text-anchor="end">90</text>
<text x="49.7" y="53.90" font-size="8.4" text-anchor="end">100</text>
<g transform="translate(67.10,718.6) rotate(-45)" font-size="8.6"><use href="#p"/><text x="-13.5" text-anchor="end">01</text><text text-anchor="end">18</text></g>
<g transform="translate(78.73,718.6) rotate(-45)" font-size="8.6"><use href="#p"/><text x="-13.5" text-anchor="end">02</text><text text-anchor="end">18</text></g>
<g transform="translate(90.36,718.6) rotate(-45)" font-size="8.6"><use href="#p"/><text x="-13.5" text-anchor="end">03</text><text text-anchor="end">18</text></g>
<g transform="translate(101.99,718.6) rotate(-45)" font-size="8.6"><use href="#p"/><text x="-13.5" text-anchor="end">04</text><text text-anchor="end">18</text></g>
<g transform="translate(113.62,718.6) rotate(-45)" font-size="8.6"><use href="#p"/><text x="-13.5" text-anchor="end">05</text><text text-anchor="end">18</text></g>
<g transform="translate(125.25,718.6) rotate(-45)" font-size="8.6"><use href="#p"/><text x="-13.5" text-anchor="end">06</text><text text-anchor="end">18</text></g>
<g transform="translate(136.88,718.6) rotate(-45)" font-size="8.6"><use href="#p"/><text x="-13.5" text-anchor="end">07</text><text text-anchor="end">18</text></g>
<g transform="translate(148.51,718.6) rotate(-45)" font-size="8.6"><use href="#p"/><text x="-13.5" text-anchor="end">08</text><text text-anchor="end">18</text></g>
<g transform="translate(160.14,718.6) rotate(-45)" font-size="8.6"><use href="#p"/><text x="-13.5" text-anchor="end">09</text><text text-anchor="end">18</text></g>
<g transform="translate(171.77,718.6) rotate(-45)" font-size="8.6"><use href="#p"/><text x="-13.5" text-anchor="end">10</text><text text-anchor="end">18</text></g>
<g transform="translate(183.40,718.6) rotate(-45)" font-size="8.6"><use href="#p"/><text x="-13.5" text-anchor="end">11</text><text text-anchor="end">18</text></g>
<g transform="translate(195.03,718.6) rotate(-45)" font-size="8.6"><use href="#p"/><text x="-13.5" text-anchor="end">12</text><text text-anchor="end">18</text></g>
<g transform="translate(206.66,718.6) rotate(-45)" font-size="8.6"><use href="#p"/><text x="-13.5" text-anchor="end">01</text><text text-anchor="end">19</text></g>
<g transform="translate(218.29,718.6) rotate(-45)" font-size="8.6"><use href="#p"/><text x="-13.5" text-anchor="end">02</text><text text-anchor="end">19</text></g>
<g transform="translate(229.92,718.6) rotate(-45)" font-size="8.6"><use href="#p"/><text x="-13.5" text-anchor="end">03</text><text text-anchor="end">19</text></g>
<g transform="translate(241.55,718.6) rotate(-45)" font-size="8.6"><use href="#p"/><text x="-13.5" text-anchor="end">04</text><text text-anchor="end">19</text></g>
<g transform="translate(253.18,718.6) rotate(-45)" font-size="8.6"><use href="#p"/><text x="-13.5" text-anchor="end">05</text><text text-anchor="end">19</text></g>
<g transform="translate(264.81,718.6) rotate(-45)" font-size="8.6"><use href="#p"/><text x="-13.5" text-anchor="end">06</text><text text-anchor="end">19</text></g>
<g transform="translate(276.44,718.6) rotate(-45)" font-size="8.6"><use href="#p"/><text x="-13.5" text-anchor="end">07</text><text text-anchor="end">19</text></g>
<g transform="translate(288.07,718.6) rotate(-45)" font-size="8.6"><use href="#p"/><text x="-13.5" text-anchor="end">08</text><text text-anchor="end">19</text></g>
<g transform="translate(299.70,718.6) rotate(-45)" font-size="8.6"><use href="#p"/><text x="-13.5" text-anchor="end">09</text><text text-anchor="end">19</text></g>
<g transform="translate(311.33,718.6) rotate(-45)" font-size="8.6"><use href="#p"/><text x="-13.5" text-anchor="end">10</text><text text-anchor="end">19</text></g>
<g transform="translate(322.96,718.6) rotate(-45)" font-size="8.6"><use href="#p"/><text x="-13.5" text-anchor="end">11</text><text text-anchor="end">19</text></g>
<g transform="translate(334.59,718.6) rotate(-45)" font-size="8.6"><use href="#p"/><text x="-13.5" text-anchor="end">12</text><text text-anchor="end">19</text></g>
<g transform="translate(346.22,718.6) rotate(-45)" font-size="8.6"><use href="#p"/><text x="-13.5" text-anchor="end">01</text><text text-anchor="end">20</text></g>
<g transform="translate(357.85,718.6) rotate(-45)" font-size="8.6"><use href="#p"/><text x="-13.5" text-anchor="end">02</text><text text-anchor="end">20</text></g>
<g transform="translate(369.48,718.6) rotate(-45)" font-size="8.6"><use href="#p"/><text x="-13.5" text-anchor="end">03</text><text text-anchor="end">20</text></g>
<g transform="translate(381.11,718.6) rotate(-45)" font-size="8.6"><use href="#p"/><text x="-13.5" text-anchor="end">04</text><text text-anchor="end">20</text></g>
<g transform="translate(392.74,718.6) rotate(-45)" font-size="8.6"><use href="#p"/><text x="-13.5" text-anchor="end">05</text><text text-anchor="end">20</text></g>
<g transform="translate(404.37,718.6) rotate(-45)" font-size="8.6"><use href="#p"/><text x="-13.5" text-anchor="end">06</text><text text-anchor="end">20</text></g>
<g transform="translate(416.00,718.6) rotate(-45)" font-size="8.6"><use href="#p"/><text x="-13.5" text-anchor="end">07</text><text text-anchor="end">20</text></g>
<g transform="translate(427.63,718.6) rotate(-45)" font-size="8.6"><use href="#p"/><text x="-13.5" text-anchor="end">08</text><text text-anchor="end">20</text></g>
<g transform="translate(439.26,718.6) rotate(-45)" font-size="8.6"><use href="#p"/><text x="-13.5" text-anchor="end">09</text><text text-anchor="end">20</text></g>
<g transform="translate(450.89,718.6) rotate(-45)" font-size="8.6"><use href="#p"/><text x="-13.5" text-anchor="end">10</text><text text-anchor="end">20</text></g>
<g transform="translate(462.52,718.6) rotate(-45)" font-size="8.6"><use href="#p"/><text x="-13.5" text-anchor="end">11</text><text text-anchor="end">20</text></g>
<g transform="translate(474.15,718.6) rotate(-45)" font-size="8.6"><use href="#p"/><text x="-13.5" text-anchor="end">12</text><text text-anchor="end">20</text></g>
<g transform="translate(485.78,718.6) rotate(-45)" font-size="8.6"><use href="#p"/><text x="-13.5" text-anchor="end">01</text><text text-anchor="end">21</text></g>
<g transform="translate(497.41,718.6) rotate(-45)" font-size="8.6"><use href="#p"/><text x="-13.5" text-anchor="end">02</text><text text-anchor="end">21</text></g>
<g transform="translate(509.04,718.6) rotate(-45)" font-size="8.6"><use href="#p"/><text x="-13.5" text-anchor="end">03</text><text text-anchor="end">21</text></g>
<g transform="translate(520.67,718.6) rotate(-45)" font-size="8.6"><use href="#p"/><text x="-13.5" text-anchor="end">04</text><text text-anchor="end">21</text></g>
<g transform="translate(532.30,718.6) rotate(-45)" font-size="8.6"><use href="#p"/><text x="-13.5" text-anchor="end">05</text><text text-anchor="end">21</text></g>
<g transform="translate(543.93,718.6) rotate(-45)" font-size="8.6"><use href="#p"/><text x="-13.5" text-anchor="end">06</text><text text-anchor="end">21</text></g>
<g transform="translate(555.56,718.6) rotate(-45)" font-size="8.6"><use href="#p"/><text x="-13.5" text-anchor="end">07</text><text text-anchor="end">21</text></g>
<g transform="translate(567.19,718.6) rotate(-45)" font-size="8.6"><use href="#p"/><text x="-13.5" text-anchor="end">08</text><text text-anchor="end">21</text></g>
<g transform="translate(578.82,718.6) rotate(-45)" font-size="8.6"><use href="#p"/><text x="-13.5" text-anchor="end">09</text><text text-anchor="end">21</text></g>
<g transform="translate(590.45,718.6) rotate(-45)" font-size="8.6"><use href="#p"/><text x="-13.5" text-anchor="end">10</text><text text-anchor="end">21</text></g>
<g transform="translate(602.08,718.6) rotate(-45)" font-size="8.6"><use href="#p"/><text x="-13.5" text-anchor="end">11</text><text text-anchor="end">21</text></g>
<g transform="translate(613.71,718.6) rotate(-45)" font-size="8.6"><use href="#p"/><text x="-13.5" text-anchor="end">12</text><text text-anchor="end">21</text></g>
<g transform="translate(625.34,718.6) rotate(-45)" font-size="8.6"><use href="#p"/><text x="-13.5" text-anchor="end">01</text><text text-anchor="end">22</text></g>
<g transform="translate(636.97,718.6) rotate(-45)" font-size="8.6"><use href="#p"/><text x="-13.5" text-anchor="end">02</text><text text-anchor="end">22</text></g>
<g transform="translate(648.60,718.6) rotate(-45)" font-size="8.6"><use href="#p"/><text x="-13.5" text-anchor="end">03</text><text text-anchor="end">22</text></g>
<g transform="translate(660.23,718.6) rotate(-45)" font-size="8.6"><use href="#p"/><text x="-13.5" text-anchor="end">04</text><text text-anchor="end">22</text></g>
<g transform="translate(671.86,718.6) rotate(-45)" font-size="8.6"><use href="#p"/><text x="-13.5" text-anchor="end">05</text><text text-anchor="end">22</text></g>
<g transform="translate(683.49,718.6) rotate(-45)" font-size="8.6"><use href="#p"/><text x="-13.5" text-anchor="end">06</text><text text-anchor="end">22</text></g>
<g transform="translate(695.12,718.6) rotate(-45)" font-size="8.6"><use href="#p"/><text x="-13.5" text-anchor="end">07</text><text text-anchor="end">22</text></g>
<g transform="translate(706.75,718.6) rotate(-45)" font-size="8.6"><use href="#p"/><text x="-13.5" text-anchor="end">08</text><text text-anchor="end">22</text></g>
<g transform="translate(718.38,718.6) rotate(-45)" font-size="8.6"><use href="#p"/><text x="-13.5" text-anchor="end">09</text><text text-anchor="end">22</text></g>
<g transform="translate(730.01,718.6) rotate(-45)" font-size="8.6"><use href="#p"/><text x="-13.5" text-anchor="end">10</text><text text-anchor="end">22</text></g>
<g transform="translate(741.64,718.6) rotate(-45)" font-size="8.6"><use href="#p"/><text x="-13.5" text-anchor="end">11</text><text text-anchor="end">22</text></g>
<g transform="translate(753.27,718.6) rotate(-45)" font-size="8.6"><use href="#p"/><text x="-13.5" text-anchor="end">12</text><text text-anchor="end">22</text></g>
<g transform="translate(764.90,718.6) rotate(-45)" font-size="8.6"><use href="#p"/><text x="-13.5" text-anchor="end">01</text><text text-anchor="end">23</text></g>
<g transform="translate(776.53,718.6) rotate(-45)" font-size="8.6"><use href="#p"/><text x="-13.5" text-anchor="end">02</text><text text-anchor="end">23</text></g>
<g transform="translate(788.16,718.6) rotate(-45)" font-size="8.6"><use href="#p"/><text x="-13.5" text-anchor="end">03</text><text text-anchor="end">23</text></g>
<g transform="translate(799.79,718.6) rotate(-45)" font-size="8.6"><use href="#p"/><text x="-13.5" text-anchor="end">04</text><text text-anchor="end">23</text></g>
<g transform="translate(811.42,718.6) rotate(-45)" font-size="8.6"><use href="#p"/><text x="-13.5" text-anchor="end">05</text><text text-anchor="end">23</text></g>
<g transform="translate(823.05,718.6) rotate(-45)" font-size="8.6"><use href="#p"/><text x="-13.5" text-anchor="end">06</text><text text-anchor="end">23</text></g>
<g transform="translate(834.68,718.6) rotate(-45)" font-size="8.6"><use href="#p"/><text x="-13.5" text-anchor="end">07</text><text text-anchor="end">23</text></g>
<g transform="translate(846.31,718.6) rotate(-45)" font-size="8.6"><use href="#p"/><text x="-13.5" text-anchor="end">08</text><text text-anchor="end">23</text></g>
<g transform="translate(857.94,718.6) rotate(-45)" font-size="8.6"><use href="#p"/><text x="-13.5" text-anchor="end">09</text><text text-anchor="end">23</text></g>
<g transform="translate(869.57,718.6) rotate(-45)" font-size="8.6"><use href="#p"/><text x="-13.5" text-anchor="end">10</text><text text-anchor="end">23</text></g>
<g transform="translate(881.20,718.6) rotate(-45)" font-size="8.6"><use href="#p"/><text x="-13.5" text-anchor="end">11</text><text text-anchor="end">23</text></g>
<g transform="translate(892.83,718.6) rotate(-45)" font-size="8.6"><use href="#p"/><text x="-13.5" text-anchor="end">12</text><text text-anchor="end">23</text></g>
<g transform="translate(904.46,718.6) rotate(-45)" font-size="8.6"><use href="#p"/><text x="-13.5" text-anchor="end">01</text><text text-anchor="end">24</text></g>
<g transform="translate(916.09,718.6) rotate(-45)" font-size="8.6"><use href="#p"/><text x="-13.5" text-anchor="end">02</text><text text-anchor="end">24</text></g>
<g transform="translate(927.72,718.6) rotate(-45)" font-size="8.6"><use href="#p"/><text x="-13.5" text-anchor="end">03</text><text text-anchor="end">24</text></g>
<g transform="translate(939.35,718.6) rotate(-45)" font-size="8.6"><use href="#p"/><text x="-13.5" text-anchor="end">04</text><text text-anchor="end">24</text></g>
<g transform="translate(950.98,718.6) rotate(-45)" font-size="8.6"><use href="#p"/><text x="-13.5" text-anchor="end">05</text><text text-anchor="end">24</text></g>
<g transform="translate(962.61,718.6) rotate(-45)" font-size="8.6"><use href="#p"/><text x="-13.5" text-anchor="end">06</text><text text-anchor="end">24</text></g>
<g transform="translate(974.24,718.6) rotate(-45)" font-size="8.6"><use href="#p"/><text x="-13.5" text-anchor="end">07</text><text text-anchor="end">24</text></g>
<g transform="translate(985.87,718.6) rotate(-45)" font-size="8.6"><use href="#p"/><text x="-13.5" text-anchor="end">08</text><text text-anchor="end">24</text></g>
<g transform="translate(997.50,718.6) rotate(-45)" font-size="8.6"><use href="#p"/><text x="-13.5" text-anchor="end">09</text><text text-anchor="end">24</text></g>
<g transform="translate(1009.13,718.6) rotate(-45)" font-size="8.6"><use href="#p"/><text x="-13.5" text-anchor="end">10</text><text text-anchor="end">24</text></g>
<g transform="translate(1020.76,718.6) rotate(-45)" font-size="8.6"><use href="#p"/><text x="-13.5" text-anchor="end">11</text><text text-anchor="end">24</text></g>
<g transform="translate(1032.39,718.6) rotate(-45)" font-size="8.6"><use href="#p"/><text x="-13.5" text-anchor="end">12</text><text text-anchor="end">24</text></g>
<g transform="translate(1044.02,718.6) rotate(-45)" font-size="8.6"><use href="#p"/><text x="-13.5" text-anchor="end">01</text><text text-anchor="end">25</text></g>
<g transform="translate(1055.65,718.6) rotate(-45)" font-size="8.6"><use href="#p"/><text x="-13.5" text-anchor="end">02</text><text text-anchor="end">25</text></g>
<g transform="translate(1067.28,718.6) rotate(-45)" font-size="8.6"><use href="#p"/><text x="-13.5" text-anchor="end">03</text><text text-anchor="end">25</text></g>
<g transform="translate(1078.91,718.6) rotate(-45)" font-size="8.6"><use href="#p"/><text x="-13.5" text-anchor="end">04</text><text text-anchor="end">25</text></g>
<g transform="translate(1090.54,718.6) rotate(-45)" font-size="8.6"><use href="#p"/><text x="-13.5" text-anchor="end">05</text><text text-anchor="end">25</text></g>
<g transform="translate(1102.17,718.6) rotate(-45)" font-size="8.6"><use href="#p"/><text x="-13.5" text-anchor="end">06</text><text text-anchor="end">25</text></g>
<g transform="translate(1113.80,718.6) rotate(-45)" font-size="8.6"><use href="#p"/><text x="-13.5" text-anchor="end">07</text><text text-anchor="end">25</text></g>
<g transform="translate(1125.43,718.6) rotate(-45)" font-size="8.6"><use href="#p"/><text x="-13.5" text-anchor="end">08</text><text text-anchor="end">25</text></g>
<g transform="translate(1137.06,718.6) rotate(-45)" font-size="8.6"><use href="#p"/><text x="-13.5" text-anchor="end">09</text><text text-anchor="end">25</text></g>
<g transform="translate(1148.69,718.6) rotate(-45)" font-size="8.6"><use href="#p"/><text x="-13.5" text-anchor="end">10</text><text text-anchor="end">25</text></g>
<g transform="translate(1160.32,718.6) rotate(-45)" font-size="8.6"><use href="#p"/><text x="-13.5" text-anchor="end">11</text><text text-anchor="end">25</text></g>
<g transform="translate(1171.95,718.6) rotate(-45)" font-size="8.6"><use href="#p"/><text x="-13.5" text-anchor="end">12</text><text text-anchor="end">25</text></g>
</g>
<text x="66.7" y="30.5" font-size="13.8" textLength="59.3" lengthAdjust="spacingAndGlyphs" fill="#000" stroke="#000" stroke-width="0.25">VOLUME</text>
<text x="128.3" y="30.5" font-size="13.8" textLength="102.3" lengthAdjust="spacingAndGlyphs" fill="#000" stroke="#000" stroke-width="0.25">RESERVATÓRIO</text>
<text x="232.8" y="30.5" font-size="13.8" textLength="23.3" lengthAdjust="spacingAndGlyphs" fill="#000" stroke="#000" stroke-width="0.25">RIO</text>
<text x="259.6" y="30.5" font-size="13.8" textLength="53.4" lengthAdjust="spacingAndGlyphs" fill="#000" stroke="#000" stroke-width="0.25">MANSO</text>
<text transform="translate(17.9,384.6) rotate(-90)" font-size="11.8" text-anchor="middle" textLength="64" lengthAdjust="spacingAndGlyphs" fill="#000">Volume (%)</text>
<text x="601.7" y="758.7" font-size="11" text-anchor="middle" textLength="24.4" lengthAdjust="spacingAndGlyphs" fill="#000">Data</text>
</svg>
</body></html>
